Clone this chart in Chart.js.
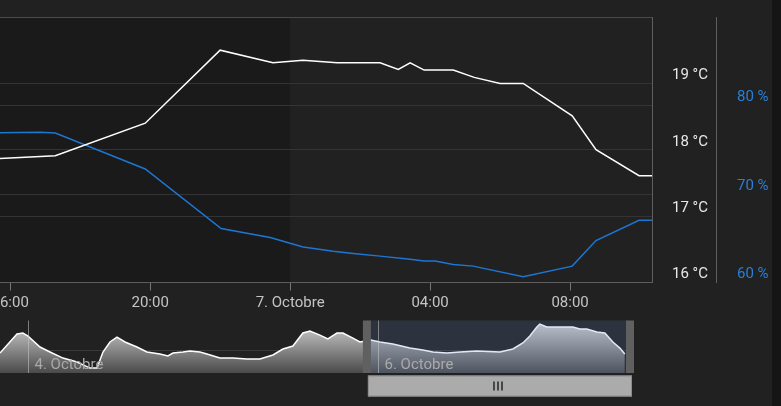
<!DOCTYPE html>
<html>
<head>
<meta charset="utf-8">
<script src="https://cdn.jsdelivr.net/npm/chart.js@4.4.1/dist/chart.umd.min.js"></script>
<style>
  html, body { margin: 0; padding: 0; background: #151515; }
  #wrap { position: relative; width: 772px; height: 406px; background: #212121; }
  canvas { position: absolute; left: 0; }
  #main { top: 0; }
  #nav { top: 316px; }
</style>
</head>
<body>
<div id="wrap">
  <canvas id="main" width="772" height="316"></canvas>
  <canvas id="nav" width="772" height="90"></canvas>
</div>
<script>
// heures comptées depuis le 6 octobre 00:00
const tempHeures = [15.71, 17.29, 19.86, 22.0, 23.51, 24.37, 25.34, 26.57, 27.09, 27.43, 27.83, 28.66, 29.26, 30.0, 30.66, 32.06, 32.74, 33.97, 34.34];
const tempValeurs = [17.87, 17.91, 18.40, 19.50, 19.31, 19.35, 19.31, 19.31, 19.21, 19.31, 19.20, 19.20, 19.09, 19.00, 19.00, 18.51, 18.00, 17.61, 17.61];
const humHeures = [15.71, 16.86, 17.29, 19.86, 22.03, 23.43, 24.37, 25.23, 25.8, 26.57, 27.43, 27.83, 28.14, 28.66, 29.23, 30.66, 32.06, 32.74, 33.97, 34.34];
const humValeurs = [76.91, 76.99, 76.88, 72.83, 66.09, 65.08, 64.02, 63.54, 63.28, 62.98, 62.64, 62.42, 62.42, 62.04, 61.85, 60.65, 61.85, 64.74, 67.02, 67.02];

const xTicks = [16, 20, 24, 28, 32];
const xLabels = ['16:00', '20:00', '7. Octobre', '04:00', '08:00'];
const tempTicks = [16, 17, 18, 19, 20];
const humTicks = [60, 70, 80, 90];
const vueMin = 15.71, vueMax = 34.34;
const bandeNuit = [0, 24];

// navigateur : heures depuis le 4 octobre 00:00
const navHeures = [-3.84, -1.51, -0.69, 0, 1.65, 3.02, 4.80, 6.72, 8.50, 9.47, 10.29, 11.25, 12.21, 13.31, 14.95, 16.32, 18.11, 19.20, 19.89, 21.26, 22.22, 23.59, 24.55, 26.34, 28.12, 30.04, 31.82, 33.61, 34.98, 36.35, 37.72, 38.68, 40.05, 41.15, 42.39, 43.21, 44.58, 45.54, 47.05, 48.29, 50.07, 52.40, 54.18, 55.56, 57.48, 59.26, 61.59, 64.75, 66.53, 67.90, 68.86, 69.82, 70.23, 71.19, 72.98, 74.76, 75.72, 76.68, 78.05, 79.15, 80.25, 81.21, 81.89];
const navValeurs = [15.74, 17.39, 17.48, 17.22, 16.26, 15.83, 15.30, 14.96, 14.43, 14.43, 15.83, 16.70, 17.13, 16.70, 16.26, 15.83, 15.65, 15.48, 15.74, 15.83, 15.91, 15.83, 15.65, 15.30, 15.30, 15.22, 15.22, 15.57, 16.09, 16.35, 17.48, 17.65, 17.30, 16.96, 17.48, 17.48, 17.04, 16.70, 16.87, 16.70, 16.52, 16.17, 16.00, 15.83, 15.74, 15.83, 15.91, 15.83, 16.09, 16.61, 17.22, 18.00, 18.26, 18.00, 18.00, 18.00, 17.83, 17.83, 17.57, 17.48, 16.70, 16.17, 15.65];
const navJours = [0, 48];
const navLabels = ['4. Octobre', '6. Octobre'];
const navGrille = [16];
const navSelection = [46.5, 82.6];

Chart.defaults.font.family = 'Roboto';
Chart.defaults.font.size = 15;

const points = (xs, ys) => xs.map((x, i) => ({ x: x, y: ys[i] }));

const bande = {
  id: 'bande',
  beforeDraw(chart) {
    const { ctx, chartArea: a, scales: { x } } = chart;
    const x0 = Math.max(a.left, x.getPixelForValue(bandeNuit[0]));
    const x1 = Math.min(a.right, x.getPixelForValue(bandeNuit[1]));
    ctx.save();
    ctx.fillStyle = '#1a1a1a';
    ctx.fillRect(x0, a.top, x1 - x0, a.bottom - a.top);
    ctx.restore();
  }
};

new Chart(document.getElementById('main'), {
  type: 'line',
  data: {
    datasets: [{
      label: 'Température',
      data: points(tempHeures, tempValeurs),
      yAxisID: 'yT',
      borderColor: '#ffffff',
      borderWidth: 1.5,
      pointRadius: 0,
      tension: 0
    }, {
      label: 'Humidité',
      data: points(humHeures, humValeurs),
      yAxisID: 'yH',
      borderColor: '#1d76d4',
      borderWidth: 1.5,
      pointRadius: 0,
      tension: 0
    }]
  },
  options: {
    responsive: false,
    animation: false,
    devicePixelRatio: 1,
    layout: { padding: { left: 0, right: 0, top: 17, bottom: 3.5 } },
    plugins: { legend: { display: false }, tooltip: { enabled: false } },
    scales: {
      x: {
        type: 'linear',
        min: vueMin,
        max: vueMax,
        afterBuildTicks: s => { s.ticks = xTicks.map(v => ({ value: v })); },
        afterFit: s => { s.paddingLeft = 0; s.paddingRight = 0; s.height = 30; },
        ticks: {
          color: '#c4c4c4',
          padding: 4,
          maxRotation: 0,
          autoSkip: false,
          callback: v => xLabels[xTicks.indexOf(v)]
        },
        grid: { drawOnChartArea: false, tickLength: 8, color: '#777777' },
        border: { color: '#5e5e5e' }
      },
      yT: {
        position: 'right',
        weight: 0,
        min: 16,
        max: 20,
        afterBuildTicks: s => { s.ticks = tempTicks.map(v => ({ value: v })); },
        afterFit: s => { s.width = 64; s.paddingTop = 0; s.paddingBottom = 0; },
        ticks: {
          color: '#e8e8e8',
          padding: 20,
          labelOffset: -8,
          callback: v => v === 20 ? '' : v + ' °C'
        },
        grid: {
          drawTicks: false,
          color: c => c.tick && c.tick.value === 20 ? '#4a4a4a' : '#343434'
        },
        border: { color: '#5e5e5e' }
      },
      yH: {
        position: 'right',
        weight: 1,
        min: 60,
        max: 90,
        afterBuildTicks: s => { s.ticks = humTicks.map(v => ({ value: v })); },
        afterFit: s => { s.width = 56; s.paddingTop = 0; s.paddingBottom = 0; },
        ticks: {
          color: '#2a7fd6',
          padding: 21,
          labelOffset: -8,
          callback: v => v === 90 ? '' : v + ' %'
        },
        grid: {
          drawTicks: false,
          color: c => c.tick && c.tick.value === 90 ? '#4a4a4a' : '#343434'
        },
        border: { color: '#5e5e5e' }
      }
    }
  },
  plugins: [bande]
});

const navigateur = {
  id: 'navigateur',
  afterDatasetsDraw(chart) {
    const { ctx, chartArea: a, scales: { x } } = chart;
    ctx.save();
    const x0 = x.getPixelForValue(navSelection[0]);
    const x1 = x.getPixelForValue(navSelection[1]);
    ctx.fillStyle = 'rgba(102,133,194,0.18)';
    ctx.fillRect(x0, a.top, x1 - x0, a.bottom - a.top);

    ctx.strokeStyle = 'rgba(200,200,200,0.55)';
    ctx.lineWidth = 1;
    ctx.fillStyle = '#a9a9a9';
    ctx.font = '15px Roboto';
    ctx.textBaseline = 'alphabetic';
    x.ticks.forEach((t, i) => {
      const px = Math.round(x.getPixelForValue(t.value)) + 0.5;
      ctx.beginPath();
      ctx.moveTo(px, a.top);
      ctx.lineTo(px, a.bottom);
      ctx.stroke();
      ctx.fillText(navLabels[i], px + 6, a.bottom - 4);
    });

    ctx.fillStyle = '#606060';
    ctx.fillRect(x0 - 4, a.top, 8, a.bottom - a.top);
    ctx.fillRect(x1 - 4, a.top, 8, a.bottom - a.top);

    const sy = a.bottom + 2.5;
    ctx.fillStyle = '#ababab';
    ctx.fillRect(x0 + 1, sy, x1 - x0 + 1, 21);
    ctx.strokeStyle = '#8c8c8c';
    ctx.strokeRect(x0 + 1.5, sy + 0.5, x1 - x0, 20);
    const mx = Math.round((x0 + x1) / 2);
    ctx.strokeStyle = '#2e2e2e';
    ctx.lineWidth = 1.6;
    [-4, 0, 4].forEach(d => {
      ctx.beginPath();
      ctx.moveTo(mx + d, sy + 6);
      ctx.lineTo(mx + d, sy + 15);
      ctx.stroke();
    });
    ctx.restore();
  }
};

new Chart(document.getElementById('nav'), {
  type: 'line',
  data: {
    datasets: [{
      data: points(navHeures, navValeurs),
      borderColor: '#ffffff',
      borderWidth: 1.5,
      pointRadius: 0,
      tension: 0,
      fill: 'start',
      backgroundColor: c => {
        const a = c.chart.chartArea;
        if (!a) return '#888888';
        const g = c.chart.ctx.createLinearGradient(0, a.top, 0, a.bottom);
        g.addColorStop(0, '#d6d6d6');
        g.addColorStop(1, '#4a4a4a');
        return g;
      }
    }]
  },
  options: {
    responsive: false,
    animation: false,
    devicePixelRatio: 1,
    layout: { padding: { left: 0, right: 142, top: 4.5, bottom: 33 } },
    plugins: { legend: { display: false }, tooltip: { enabled: false } },
    scales: {
      x: {
        type: 'linear',
        min: -3.84,
        max: 82.6,
        afterBuildTicks: s => { s.ticks = navJours.map(v => ({ value: v })); },
        afterFit: s => { s.height = 0; s.paddingLeft = 0; s.paddingRight = 0; },
        ticks: { display: false },
        grid: { display: false },
        border: { display: false }
      },
      y: {
        min: 14,
        max: 18.57,
        afterBuildTicks: s => { s.ticks = navGrille.map(v => ({ value: v })); },
        afterFit: s => { s.width = 0; s.paddingTop = 0; s.paddingBottom = 0; },
        ticks: { display: false },
        grid: { drawTicks: false, color: '#3a3a3a' },
        border: { display: false }
      }
    }
  },
  plugins: [navigateur]
});
</script>
</body>
</html>
